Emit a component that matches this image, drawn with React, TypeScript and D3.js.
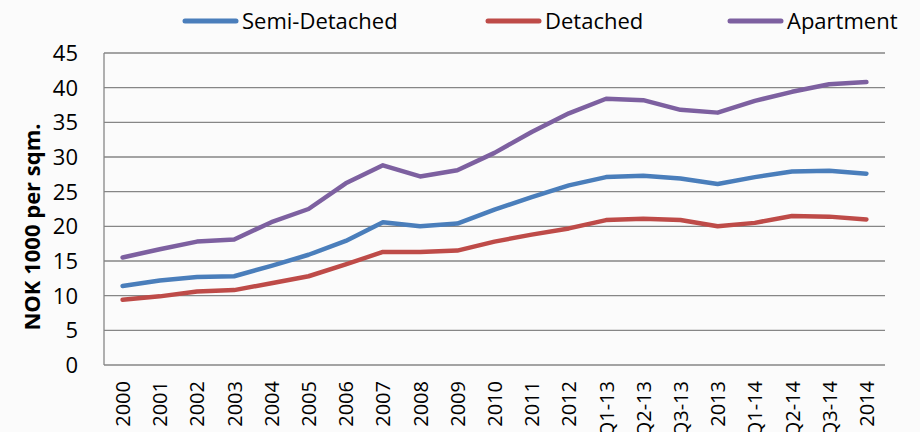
import React, { useRef, useEffect } from "react";
import * as d3 from "d3";

const categories: string[] = [
  "2000", "2001", "2002", "2003", "2004", "2005", "2006", "2007", "2008",
  "2009", "2010", "2011", "2012", "Q1-13", "Q2-13", "Q3-13", "2013",
  "Q1-14", "Q2-14", "Q3-14", "2014",
];

const semiDetached: number[] = [
  11.4, 12.2, 12.7, 12.8, 14.3, 15.9, 17.9, 20.6, 20.0, 20.4, 22.4, 24.2,
  25.9, 27.1, 27.3, 26.9, 26.1, 27.1, 27.9, 28.0, 27.6,
];
const detached: number[] = [
  9.4, 9.9, 10.6, 10.8, 11.8, 12.8, 14.5, 16.3, 16.3, 16.5, 17.8, 18.8,
  19.7, 20.9, 21.1, 20.9, 20.0, 20.5, 21.5, 21.4, 21.0,
];
const apartment: number[] = [
  15.5, 16.7, 17.8, 18.1, 20.6, 22.5, 26.2, 28.8, 27.2, 28.1, 30.6, 33.6,
  36.3, 38.4, 38.2, 36.8, 36.4, 38.1, 39.4, 40.5, 40.8,
];
const yTicks: number[] = [0, 5, 10, 15, 20, 25, 30, 35, 40, 45];

const seriesNames = ["Semi-Detached", "Detached", "Apartment"];
const seriesColors = ["#4a7ebb", "#be4b48", "#7d60a0"];

const App: React.FC = () => {
  const ref = useRef<SVGSVGElement>(null);
  const width = 920;
  const height = 432;
  const margin = { top: 53, right: 35, bottom: 67, left: 104 };
  const innerWidth = width - margin.left - margin.right;
  const innerHeight = height - margin.top - margin.bottom;

  useEffect(() => {
    document.body.style.margin = "0";
    const svg = d3.select(ref.current);
    svg.selectAll("*").remove();
    svg.attr("width", width).attr("height", height).style("display", "block");

    svg.append("rect").attr("width", width).attr("height", height).attr("fill", "#fbfbfb");

    const g = svg.append("g").attr("transform", `translate(${margin.left}, ${margin.top})`);

    const xScale = d3.scaleBand<string>().domain(categories).range([0, innerWidth]);
    const yScale = d3.scaleLinear().domain([0, 45]).range([innerHeight, 0]);

    // gridlines
    g.selectAll(".grid")
      .data(yTicks)
      .enter()
      .append("line")
      .attr("x1", 0)
      .attr("x2", innerWidth)
      .attr("y1", (d) => yScale(d))
      .attr("y2", (d) => yScale(d))
      .attr("stroke", "#868686")
      .attr("stroke-width", 1.3);

    g.append("line")
      .attr("x1", 0)
      .attr("x2", 0)
      .attr("y1", 0)
      .attr("y2", innerHeight)
      .attr("stroke", "#868686")
      .attr("stroke-width", 1.3);

    // y tick labels
    g.selectAll(".ytick")
      .data(yTicks)
      .enter()
      .append("text")
      .attr("x", -26)
      .attr("y", (d) => yScale(d))
      .attr("dy", "0.36em")
      .attr("text-anchor", "end")
      .attr("font-family", "Open Sans, sans-serif")
      .attr("font-size", 22)
      .attr("fill", "#000")
      .text((d) => d);

    // x tick labels
    g.selectAll(".xtick")
      .data(categories)
      .enter()
      .append("text")
      .attr("transform", (d) => `translate(${(xScale(d) || 0) + xScale.bandwidth() / 2 + 7.5}, ${innerHeight + 16}) rotate(-90)`)
      .attr("text-anchor", "end")
      .attr("font-family", "Open Sans, sans-serif")
      .attr("font-size", 20)
      .attr("fill", "#000")
      .text((d) => d);

    // y axis title
    svg.append("text")
      .attr("transform", `translate(40, 227) rotate(-90)`)
      .attr("text-anchor", "middle")
      .attr("font-family", "Open Sans, sans-serif")
      .attr("font-weight", "bold")
      .attr("font-size", 22)
      .attr("fill", "#000")
      .text("NOK 1000 per sqm.");

    const allSeries = [semiDetached, detached, apartment];
    const line = d3
      .line<number>()
      .x((_, i) => (xScale(categories[i]) || 0) + xScale.bandwidth() / 2)
      .y((d) => yScale(d));

    allSeries.forEach((values, k) => {
      g.append("path")
        .attr("d", line(values) || "")
        .attr("fill", "none")
        .attr("stroke", seriesColors[k])
        .attr("stroke-width", 4.5)
        .attr("stroke-linejoin", "round")
        .attr("stroke-linecap", "round");
    });

    // legend
    const legendX = [183, 486, 728];
    const legend = svg.append("g");
    seriesNames.forEach((name, k) => {
      legend.append("line")
        .attr("x1", legendX[k] + 2)
        .attr("x2", legendX[k] + 53)
        .attr("y1", 21)
        .attr("y2", 21)
        .attr("stroke", seriesColors[k])
        .attr("stroke-width", 5)
        .attr("stroke-linecap", "round");
      legend.append("text")
        .attr("x", legendX[k] + 59)
        .attr("y", 21)
        .attr("dy", "0.36em")
        .attr("font-family", "Open Sans, sans-serif")
        .attr("font-size", 22)
        .attr("fill", "#000")
        .text(name);
    });
  });

  return <svg ref={ref}></svg>;
};

export default App;
